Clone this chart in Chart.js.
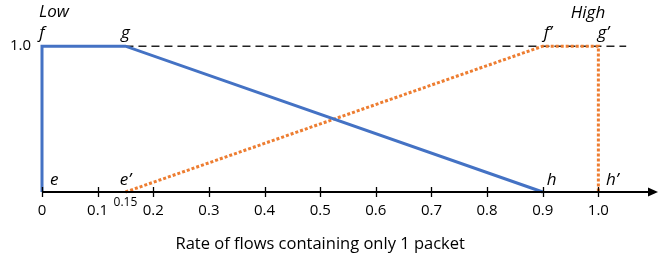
<!DOCTYPE html>
<html>
<head>
<meta charset="utf-8">
<script src="https://cdn.jsdelivr.net/npm/chart.js"></script>
<style>
  html, body { margin: 0; padding: 0; background: #fff; }
  #wrap { width: 660px; height: 261px; }
</style>
</head>
<body>
<div id="wrap"><canvas id="myChart"></canvas></div>
<script>
// membership functions (rate -> degree)
const lowX  = [0, 0, 0.15, 0.9];
const lowY  = [0, 1, 1, 0];
const highX = [0.15, 0.9, 1.0, 1.0];
const highY = [0, 1, 1, 0];
const refX  = [0.15, 1.05];
const refY  = [1, 1];
const tickValues = [0, 0.1, 0.2, 0.3, 0.4, 0.5, 0.6, 0.7, 0.8, 0.9, 1.0];
const tickLabels = ['0', '0.1', '0.2', '0.3', '0.4', '0.5', '0.6', '0.7', '0.8', '0.9', '1.0'];
const xTitle = 'Rate of flows containing only 1 packet';

function pts(xs, ys) { return xs.map((x, i) => ({x: x, y: ys[i]})); }

const FONT = '"Open Sans", sans-serif';

const axisPlugin = {
  id: 'axisPlugin',
  afterDatasetsDraw(chart) {
    const c = chart.ctx;
    const xs = chart.scales.x, ys = chart.scales.y;
    const y0 = ys.getPixelForValue(0);
    const y1 = ys.getPixelForValue(1);
    c.save();
    // x axis with arrow
    c.strokeStyle = '#000';
    c.fillStyle = '#000';
    c.lineWidth = 2;
    c.beginPath();
    c.moveTo(xs.getPixelForValue(0), y0);
    c.lineTo(650, y0);
    c.stroke();
    c.beginPath();
    c.moveTo(658, y0);
    c.lineTo(648, y0 - 4.5);
    c.lineTo(648, y0 + 4.5);
    c.closePath();
    c.fill();
    c.lineWidth = 1.3;
    tickValues.forEach(v => {
      const px = Math.round(xs.getPixelForValue(v)) + 0.5;
      c.beginPath();
      c.moveTo(px, y0 - 5);
      c.lineTo(px, y0 + 5);
      c.stroke();
    });
    // tick labels
    c.font = '15px ' + FONT;
    c.textAlign = 'center';
    c.textBaseline = 'middle';
    tickValues.forEach((v, i) => {
      c.fillText(tickLabels[i], xs.getPixelForValue(v), y0 + 19);
    });
    c.font = '16.5px ' + FONT;
    c.fillText(xTitle, xs.getPixelForValue(0.5), y0 + 52);
    c.font = '12px ' + FONT;
    c.fillText('0.15', xs.getPixelForValue(0.15), y0 + 11);
    // y label
    c.font = '15px ' + FONT;
    c.textAlign = 'right';
    c.fillText('1.0', 31, y1);
    // letters
    c.font = 'italic 17px ' + FONT;
    c.textAlign = 'center';
    c.textBaseline = 'alphabetic';
    const top = [['f', 0, 0], ['g', 0.15, 0], ['f\u2019', 0.9, 5], ['g\u2019', 1.0, 5]];
    top.forEach(t => c.fillText(t[0], xs.getPixelForValue(t[1]) + t[2], y1 - 8));
    const bot = [['e', 0.02, 1], ['e\u2019', 0.15, 0], ['h', 0.9, 9], ['h\u2019', 1.0, 14]];
    bot.forEach(t => c.fillText(t[0], xs.getPixelForValue(t[1]) + t[2], y0 - 7));
    c.fillText('Low', 54, 17);
    c.fillText('High', 588, 18);
    c.restore();
  }
};

new Chart(document.getElementById('myChart'), {
  type: 'scatter',
  data: {
    datasets: [
      {
        label: 'ref',
        data: pts(refX, refY),
        showLine: true,
        borderColor: '#222',
        borderWidth: 1.5,
        borderDash: [8, 5],
        pointRadius: 0,
        clip: false,
        order: 3
      },
      {
        label: 'Low',
        data: pts(lowX, lowY),
        showLine: true,
        borderColor: '#4472C4',
        borderWidth: 3,
        pointRadius: 0,
        clip: false,
        order: 1
      },
      {
        label: 'High',
        data: pts(highX, highY),
        showLine: true,
        borderColor: '#ED7D31',
        borderWidth: 3,
        borderDash: [3, 2],
        pointRadius: 0,
        clip: false,
        order: 2
      }
    ]
  },
  options: {
    responsive: true,
    maintainAspectRatio: false,
    animation: false,
    layout: { padding: { left: 42, right: 6, top: 17, bottom: 69 } },
    plugins: { legend: { display: false }, tooltip: { enabled: false } },
    scales: {
      x: { type: 'linear', min: 0, max: 1.1, display: false },
      y: { type: 'linear', min: 0, max: 1.2, display: false }
    }
  },
  plugins: [axisPlugin]
});
</script>
</body>
</html>
